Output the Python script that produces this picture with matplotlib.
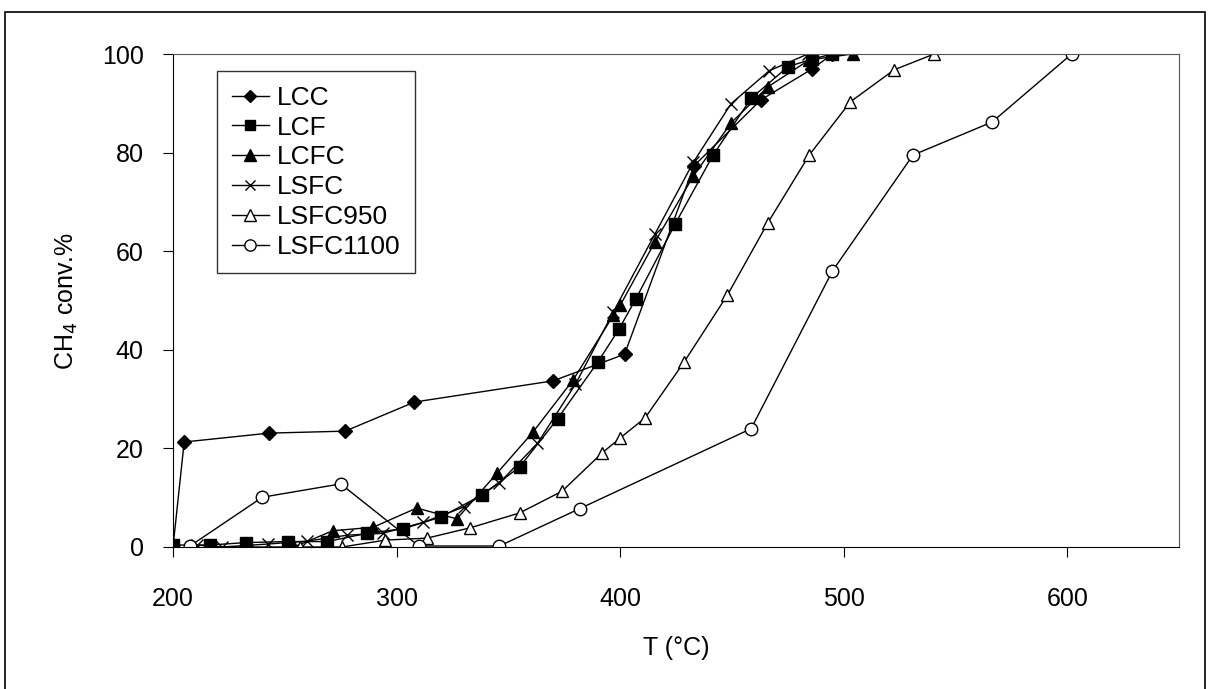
import matplotlib
matplotlib.use("Agg")
import matplotlib.pyplot as plt
from matplotlib.patches import Rectangle

plt.rcParams['font.family'] = ['Liberation Sans', 'DejaVu Sans']

# Datos
lcc_t = [200, 205, 243, 277, 308, 370, 402, 433, 463, 486, 495]
lcc_y = [0, 21.3, 23.1, 23.5, 29.4, 33.7, 39.1, 77.3, 90.7, 97, 100]

lcf_t = [200, 216.6, 232.7, 251.4, 269, 287, 303, 320, 338, 355, 372, 390, 399.5, 407, 424.6, 441.6, 458.6, 475, 486, 495]
lcf_y = [0.4, 0.4, 0.9, 1.1, 1.1, 2.8, 3.7, 6.1, 10.5, 16.2, 26, 37.5, 44.2, 50.3, 65.5, 79.5, 91, 97.4, 99, 100]

lcfc_t = [218, 234.5, 254, 271.5, 289.5, 309, 327, 345, 361, 379, 397, 400, 415.6, 432.7, 449.6, 466, 484.6, 504]
lcfc_y = [0, 0, 0, 3.3, 4, 7.9, 5.7, 15, 23.3, 33.9, 47, 49, 61.9, 75.2, 86, 93.3, 98.8, 100]

lsfc_t = [210.7, 222, 242.5, 260, 278, 294, 312, 330, 346, 363, 380, 397, 415.6, 432.7, 449.6, 466.7, 484]
lsfc_y = [0.4, 0, 0.6, 1.2, 2.4, 2.8, 5, 8.1, 13, 21, 33, 47.7, 63.5, 78, 89.9, 96.6, 100]

lsfc950_t = [257, 275.6, 295, 313.6, 333, 355, 374, 392, 400, 411.2, 428.6, 448, 466, 484.6, 503, 522.6, 540.5]
lsfc950_y = [0, 0, 1.4, 1.8, 3.9, 6.9, 11.3, 19.1, 22.1, 26.2, 37.5, 51.1, 65.7, 79.5, 90.3, 96.8, 100]

lsfc1100_t = [207.6, 240, 275, 310, 346, 382, 458.6, 495, 531, 566.4, 602]
lsfc1100_y = [0.2, 10.1, 12.8, 0.2, 0.2, 7.8, 24, 56, 79.5, 86.2, 100]

fig = plt.figure(figsize=(12.14, 6.89), dpi=100)
ax = fig.add_axes([173 / 1214, 1 - 547 / 689, (1179 - 173) / 1214, (547 - 54) / 689])

kw = dict(color='black', linewidth=1)
ax.plot(lcc_t, lcc_y, marker='D', markersize=7, label='LCC', **kw)
ax.plot(lcf_t, lcf_y, marker='s', markersize=8, label='LCF', **kw)
ax.plot(lcfc_t, lcfc_y, marker='^', markersize=9, label='LCFC', **kw)
ax.plot(lsfc_t, lsfc_y, marker='x', markersize=8, label='LSFC', **kw)
ax.plot(lsfc950_t, lsfc950_y, marker='^', markersize=9, markerfacecolor='white', label='LSFC950', **kw)
ax.plot(lsfc1100_t, lsfc1100_y, marker='o', markersize=9, markerfacecolor='white', label='LSFC1100', **kw)

ax.set_xlim(200, 650)
ax.set_ylim(0, 100)
ax.set_xticks([200, 300, 400, 500, 600])
ax.set_yticks([0, 20, 40, 60, 80, 100])
ax.tick_params(labelsize=18, direction='out', length=7)
ax.tick_params(axis='x', pad=22)
ax.tick_params(axis='y', pad=14)
ax.set_xlabel('T (°C)', fontsize=18, labelpad=18)
ax.set_ylabel('CH$_4$ conv.%', fontsize=18, labelpad=16)
for side in ['top', 'right']:
    ax.spines[side].set_color('#555555')

leg = ax.legend(loc='upper left', bbox_to_anchor=(0.044, 0.965), fontsize=19,
                frameon=True, fancybox=False, edgecolor='black', markerscale=0.9,
                handlelength=1.4, handletextpad=0.3, labelspacing=0.22, borderpad=0.55,
                borderaxespad=0)
leg.get_frame().set_linewidth(1)

fig.patches.append(Rectangle((5 / 1214, -0.01), 1200 / 1214, 1.01 - 12 / 689, transform=fig.transFigure,
                             fill=False, edgecolor='black', linewidth=1.2))

fig.savefig('out.png', dpi=100)
